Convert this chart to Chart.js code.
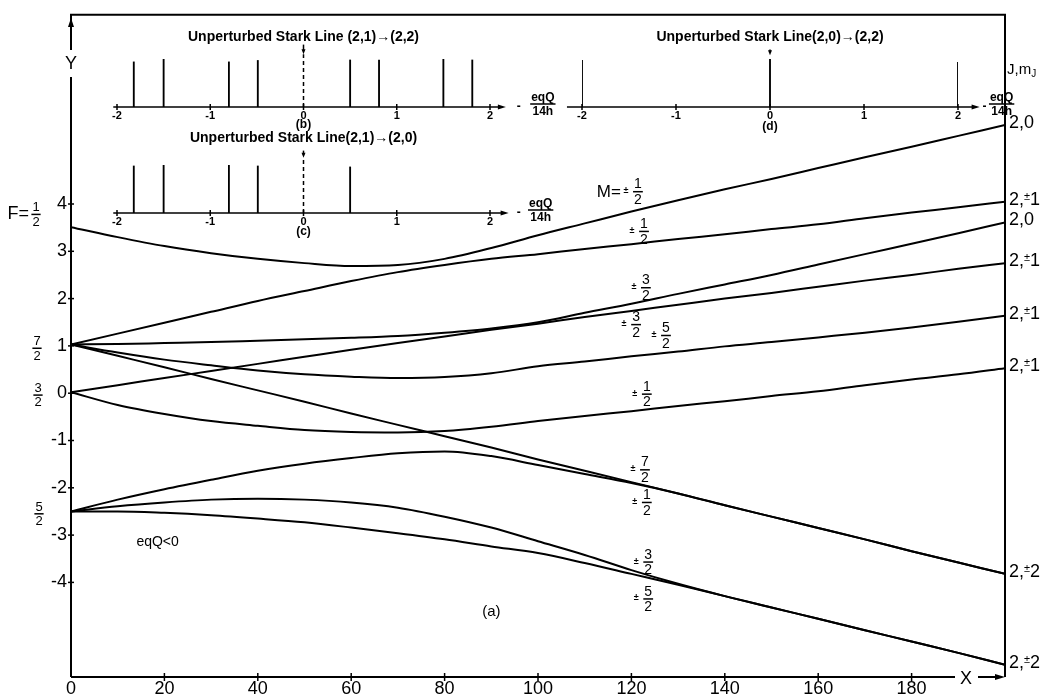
<!DOCTYPE html>
<html>
<head>
<meta charset="utf-8">
<script src="https://cdn.jsdelivr.net/npm/chart.js@4.4.0/dist/chart.umd.min.js"></script>
<style>
html, body { margin: 0; padding: 0; background: #fff; }
#wrap { position: relative; width: 1045px; height: 694px; overflow: hidden; background: #fff; }
#wrap canvas { position: absolute; left: 0; top: 0; }
</style>
</head>
<body>
<div id="wrap">
  <canvas id="main" width="1045" height="694"></canvas>
  <canvas id="insetB" width="1045" height="694"></canvas>
  <canvas id="insetC" width="1045" height="694"></canvas>
  <canvas id="insetD" width="1045" height="694"></canvas>
</div>
<script>
// ---- data ----
const xGrid = [0, 10, 20, 30, 40, 50, 60, 70, 80, 90, 100, 110, 120, 130, 140, 150, 160, 170, 180, 190, 200];

// (a) energy levels, one value per xGrid point
const lvlHalf    = [3.51, 3.30, 3.11, 2.96, 2.84, 2.75, 2.69, 2.71, 2.84, 3.07, 3.34, 3.59, 3.84, 4.08, 4.31, 4.53, 4.76, 4.99, 5.21, 5.44, 5.67];
const lvl72Up    = [1.03, 1.26, 1.49, 1.72, 1.95, 2.16, 2.37, 2.56, 2.71, 2.84, 2.94, 3.05, 3.15, 3.26, 3.36, 3.47, 3.57, 3.70, 3.82, 3.93, 4.05];
const lvl72Flat  = [1.03, 1.04, 1.06, 1.08, 1.11, 1.14, 1.17, 1.21, 1.28, 1.37, 1.50, 1.70, 1.89, 2.10, 2.30, 2.50, 2.72, 2.94, 3.16, 3.38, 3.61];
const lvl32Up    = [0.02, 0.17, 0.32, 0.47, 0.62, 0.77, 0.92, 1.06, 1.20, 1.34, 1.47, 1.61, 1.74, 1.87, 2.00, 2.12, 2.25, 2.38, 2.50, 2.63, 2.75];
const lvl72Dip   = [1.03, 0.86, 0.71, 0.59, 0.48, 0.40, 0.35, 0.32, 0.34, 0.42, 0.57, 0.67, 0.78, 0.88, 0.99, 1.08, 1.18, 1.28, 1.39, 1.51, 1.64];
const lvl72Down  = [1.03, 0.79, 0.55, 0.30, 0.06, -0.18, -0.43, -0.67, -0.91, -1.15, -1.40, -1.64, -1.88, -2.12, -2.37, -2.61, -2.85, -3.09, -3.34, -3.58, -3.82];
const lvl32Dip   = [0.02, -0.25, -0.44, -0.59, -0.69, -0.78, -0.82, -0.83, -0.80, -0.71, -0.59, -0.48, -0.38, -0.27, -0.17, -0.06, 0.04, 0.17, 0.29, 0.40, 0.53];
const lvl52Top   = [-2.50, -2.25, -2.03, -1.83, -1.64, -1.49, -1.37, -1.27, -1.23, -1.33, -1.52, -1.71, -1.90, -2.12, -2.37, -2.61, -2.85, -3.09, -3.34, -3.58, -3.82];
const lvl52Mid   = [-2.50, -2.39, -2.31, -2.25, -2.23, -2.25, -2.31, -2.42, -2.61, -2.84, -3.13, -3.42, -3.74, -4.03, -4.29, -4.53, -4.77, -5.01, -5.25, -5.49, -5.74];
const lvl52Low   = [-2.50, -2.50, -2.53, -2.58, -2.65, -2.73, -2.84, -2.96, -3.09, -3.24, -3.38, -3.59, -3.82, -4.05, -4.29, -4.53, -4.77, -5.01, -5.25, -5.49, -5.74];

// J, m_J labels at the right end (null = merged line, no label)
const endLabels = ['2,0', '2,±1', '2,0', '2,±1', '2,±1', '2,±2', '2,±1', null, '2,±2', null];

// insets: stick positions (-eqQ/14h) and relative heights
const stickPosB = [-1.82, -1.5, -0.8, -0.49, 0.5, 0.81, 1.5, 1.81];
const stickHtB  = [0.94, 1.0, 0.94, 0.97, 0.98, 0.98, 1.0, 0.98];
const stickPosC = [-1.82, -1.5, -0.8, -0.49, 0.5];
const stickHtC  = [0.98, 1.0, 1.0, 0.98, 0.96];
const stickPosD = [-2, 0, 2];
const stickHtD  = [0.97, 1.0, 0.93];

const FONT = '"Liberation Sans", Arial, Helvetica, sans-serif';
const NARROW = '"Liberation Sans Narrow", "Liberation Sans", Arial, sans-serif';
Chart.defaults.font.family = FONT;
Chart.defaults.color = '#000';

// ---- drawing helpers ----
function seg(ctx, x1, y1, x2, y2) {
  ctx.beginPath(); ctx.moveTo(x1, y1); ctx.lineTo(x2, y2); ctx.stroke();
}
function head(ctx, x, y, dx, dy, len, half) {
  ctx.beginPath();
  ctx.moveTo(x, y);
  ctx.lineTo(x - dx * len - dy * half, y - dy * len + dx * half);
  ctx.lineTo(x - dx * len + dy * half, y - dy * len - dx * half);
  ctx.closePath(); ctx.fill();
}
function frac(ctx, cx, cy, num, den, size, bold) {
  ctx.save();
  ctx.font = (bold ? 'bold ' : '') + size + 'px ' + FONT;
  ctx.textAlign = 'center'; ctx.textBaseline = 'middle';
  ctx.fillText(num, cx, cy - size * 0.52);
  ctx.fillText(den, cx, cy + size * 0.6);
  const w = Math.max(ctx.measureText(num).width, ctx.measureText(den).width) / 2 + 1;
  ctx.lineWidth = 1.5;
  seg(ctx, cx - w, cy, cx + w, cy);
  ctx.restore();
}
function pmFrac(ctx, cx, cy, num, den, size) {
  ctx.save();
  ctx.font = 'bold 9px ' + FONT;
  ctx.textAlign = 'center'; ctx.textBaseline = 'middle';
  ctx.fillText('±', cx - 12, cy - 1);
  ctx.restore();
  frac(ctx, cx, cy, num, den, size);
}
function jmLabel(ctx, x, y, txt) {
  ctx.save();
  ctx.font = '18px ' + FONT;
  ctx.textAlign = 'left'; ctx.textBaseline = 'middle';
  const parts = txt.split('±');
  ctx.fillText(parts[0], x, y);
  let cx = x + ctx.measureText(parts[0]).width;
  if (parts.length > 1) {
    ctx.font = '11px ' + FONT;
    ctx.fillText('±', cx, y - 3);
    cx += ctx.measureText('±').width;
    ctx.font = '18px ' + FONT;
    ctx.fillText(parts[1], cx, y);
  }
  ctx.restore();
}

// label spots inside panel (a), in data units
const pmSpots = [
  { x: 122.7, y: 3.42, n: '1', d: '2' },
  { x: 123.1, y: 2.23, n: '3', d: '2' },
  { x: 121.0, y: 1.45, n: '3', d: '2' },
  { x: 127.4, y: 1.22, n: '5', d: '2' },
  { x: 123.3, y: -0.02, n: '1', d: '2' },
  { x: 122.9, y: -1.62, n: '7', d: '2' },
  { x: 123.3, y: -2.31, n: '1', d: '2' },
  { x: 123.6, y: -3.57, n: '3', d: '2' },
  { x: 123.6, y: -4.35, n: '5', d: '2' }
];

const mainDeco = {
  id: 'mainDeco',
  afterDraw(chart) {
    const { ctx, chartArea: a, scales: { x, y } } = chart;
    ctx.save();
    ctx.strokeStyle = '#000'; ctx.fillStyle = '#000';
    ctx.lineWidth = 2;

    // frame and axes
    seg(ctx, a.left, a.bottom, a.left, 77);
    seg(ctx, a.left, 50, a.left, a.top);
    head(ctx, a.left, 18, 0, -1, 9, 3);
    seg(ctx, a.left - 1, a.top, a.right + 1, a.top);
    seg(ctx, a.right, a.top, a.right, a.bottom);
    seg(ctx, a.left, a.bottom, 955, a.bottom);
    seg(ctx, 978, a.bottom, a.right - 6, a.bottom);
    head(ctx, a.right, a.bottom, 1, 0, 10, 3);

    ctx.lineWidth = 1.5;
    for (let v = -4; v <= 4; v++) {
      const py = y.getPixelForValue(v);
      seg(ctx, a.left - 3, py, a.left + 3, py);
    }
    for (let v = 20; v <= 180; v += 20) {
      const px = x.getPixelForValue(v);
      seg(ctx, px, a.bottom - 4, px, a.bottom + 4);
    }

    ctx.font = '18px ' + FONT;
    ctx.textAlign = 'center'; ctx.textBaseline = 'middle';
    ctx.fillText('Y', a.left, 64);
    ctx.fillText('X', 966, a.bottom + 2);

    // F labels on the left
    ctx.textAlign = 'right';
    ctx.fillText('F=', 29, y.getPixelForValue(3.78));
    frac(ctx, 36, y.getPixelForValue(3.78), '1', '2', 13);
    frac(ctx, 37, y.getPixelForValue(0.95), '7', '2', 13);
    frac(ctx, 38, y.getPixelForValue(-0.04), '3', '2', 13);
    frac(ctx, 39, y.getPixelForValue(-2.55), '5', '2', 13);

    // M labels
    pmSpots.forEach(s => pmFrac(ctx, x.getPixelForValue(s.x), y.getPixelForValue(s.y), s.n, s.d, 14));
    const mx = x.getPixelForValue(121.4), my = y.getPixelForValue(4.26);
    pmFrac(ctx, mx, my, '1', '2', 14);
    ctx.font = '17px ' + FONT;
    ctx.textAlign = 'right'; ctx.textBaseline = 'middle';
    ctx.fillText('M=', mx - 17, my + 1);

    // right-hand J,mJ labels
    chart.data.datasets.forEach((ds, i) => {
      if (!endLabels[i]) return;
      const last = ds.data[ds.data.length - 1];
      jmLabel(ctx, a.right + 4, y.getPixelForValue(last.y) - 2, endLabels[i]);
    });
    ctx.font = '15px ' + FONT;
    ctx.textAlign = 'left';
    ctx.fillText('J,m', a.right + 2, 70);
    const w = ctx.measureText('J,m').width;
    ctx.font = '10px ' + FONT;
    ctx.fillText('J', a.right + 2 + w, 74);

    ctx.font = '14px ' + FONT;
    ctx.fillText('eqQ<0', x.getPixelForValue(14), y.getPixelForValue(-3.15));
    ctx.font = '15px ' + FONT;
    ctx.textAlign = 'center';
    ctx.fillText('(a)', x.getPixelForValue(90), y.getPixelForValue(-4.62));
    ctx.restore();
  }
};

const levelSeries = [lvlHalf, lvl72Up, lvl72Flat, lvl32Up, lvl72Dip, lvl72Down, lvl32Dip, lvl52Top, lvl52Mid, lvl52Low];

new Chart(document.getElementById('main'), {
  type: 'line',
  data: {
    datasets: levelSeries.map(s => ({
      data: xGrid.map((xv, i) => ({ x: xv, y: s[i] })),
      borderColor: '#000',
      borderWidth: 2,
      pointRadius: 0,
      fill: false,
      cubicInterpolationMode: 'monotone'
    }))
  },
  options: {
    responsive: false,
    animation: false,
    events: [],
    layout: { padding: { left: 0, top: 12, right: 40, bottom: 0 } },
    plugins: { legend: { display: false }, tooltip: { enabled: false } },
    scales: {
      x: {
        type: 'linear', min: 0, max: 200,
        grid: { display: false, drawTicks: false },
        border: { display: false },
        ticks: {
          stepSize: 20, autoSkip: false, maxRotation: 0, padding: 1,
          font: { size: 18 }, color: '#000',
          callback: v => (v <= 180 ? String(v) : '')
        },
        afterFit: s => { s.height = 17; }
      },
      y: {
        type: 'linear', min: -6, max: 8,
        grid: { display: false, drawTicks: false },
        border: { display: false },
        ticks: {
          stepSize: 1, autoSkip: false, padding: 4,
          font: { size: 18 }, color: '#000',
          callback: v => (v >= -4 && v <= 4 ? String(v) : '')
        },
        afterFit: s => { s.width = 71; }
      }
    }
  },
  plugins: [mainDeco]
});

// ---- insets (b), (c), (d) ----
function insetDeco(o) {
  return {
    id: 'insetDeco',
    afterDraw(chart) {
      const { ctx, scales: { x, y } } = chart;
      const y0 = y.getPixelForValue(0);
      const px = v => x.getPixelForValue(v);
      ctx.save();
      ctx.strokeStyle = '#000'; ctx.fillStyle = '#000';
      ctx.lineWidth = 1.5;
      const tip = px(o.axTo);
      seg(ctx, px(o.axFrom), y0, tip - 5, y0);
      head(ctx, tip, y0, 1, 0, 8, 2.5);
      for (let v = -2; v <= 2; v++) seg(ctx, px(v), y0 - 3, px(v), y0 + 3);

      if (o.dashed) {
        ctx.setLineDash([4, 3]);
        seg(ctx, px(0), y0, px(0), y.getPixelForValue(o.markLow));
        ctx.setLineDash([]);
      }
      seg(ctx, px(0), y.getPixelForValue(o.markHigh), px(0), y.getPixelForValue(o.markLow) - 3);
      head(ctx, px(0), y.getPixelForValue(o.markLow), 0, 1, 5, 2);

      ctx.font = 'bold 14px ' + NARROW;
      ctx.textAlign = 'center'; ctx.textBaseline = 'middle';
      ctx.fillText(o.title, px(0), y.getPixelForValue(o.titleAt));
      ctx.font = 'bold 12px ' + FONT;
      ctx.fillText(o.tag, px(0), y0 + o.tagDrop);

      ctx.font = 'bold 12px ' + FONT;
      ctx.fillText('-', tip + o.minusGap, y0);
      frac(ctx, tip + o.fracGap, y0 - 3, 'eqQ', '14h', 12, true);
      ctx.restore();
    }
  };
}

function insetChart(id, pos, hts, o) {
  return new Chart(document.getElementById(id), {
    type: 'bar',
    data: {
      datasets: [{
        data: pos.map((p, i) => ({ x: p, y: hts[i] })),
        backgroundColor: '#000',
        borderWidth: 0,
        barThickness: 1.2
      }]
    },
    options: {
      responsive: false,
      animation: false,
      events: [],
      layout: { padding: { left: o.left, right: 1045 - o.right, top: o.top, bottom: 694 - o.base - 16 } },
      plugins: { legend: { display: false }, tooltip: { enabled: false } },
      scales: {
        x: {
          type: 'linear', min: -2, max: 2, offset: false,
          grid: { display: false, drawTicks: false },
          border: { display: false },
          ticks: { stepSize: 1, autoSkip: false, maxRotation: 0, padding: 2, font: { size: 11, weight: 'bold' }, color: '#000' },
          afterFit: s => { s.height = 16; }
        },
        y: { display: false, min: 0, max: 1 }
      }
    },
    plugins: [insetDeco(o)]
  });
}

insetChart('insetB', stickPosB, stickHtB, {
  left: 117, right: 490, top: 59, base: 107,
  axFrom: -2.04, axTo: 2.17, dashed: true, markLow: 1.1, markHigh: 1.3,
  title: 'Unperturbed Stark Line (2,1)→(2,2)', titleAt: 1.46,
  tag: '(b)', tagDrop: 18, minusGap: 13, fracGap: 37
});
insetChart('insetC', stickPosC, stickHtC, {
  left: 117, right: 490, top: 165, base: 213,
  axFrom: -2.04, axTo: 2.2, dashed: true, markLow: 1.15, markHigh: 1.3,
  title: 'Unperturbed Stark Line(2,1)→(2,0)', titleAt: 1.55,
  tag: '(c)', tagDrop: 19, minusGap: 10, fracGap: 32
});
insetChart('insetD', stickPosD, stickHtD, {
  left: 582, right: 958, top: 59, base: 107,
  axFrom: -2.16, axTo: 2.23, dashed: false, markLow: 1.08, markHigh: 1.2,
  title: 'Unperturbed Stark Line(2,0)→(2,2)', titleAt: 1.46,
  tag: '(d)', tagDrop: 20, minusGap: 5, fracGap: 22
});
</script>
</body>
</html>
